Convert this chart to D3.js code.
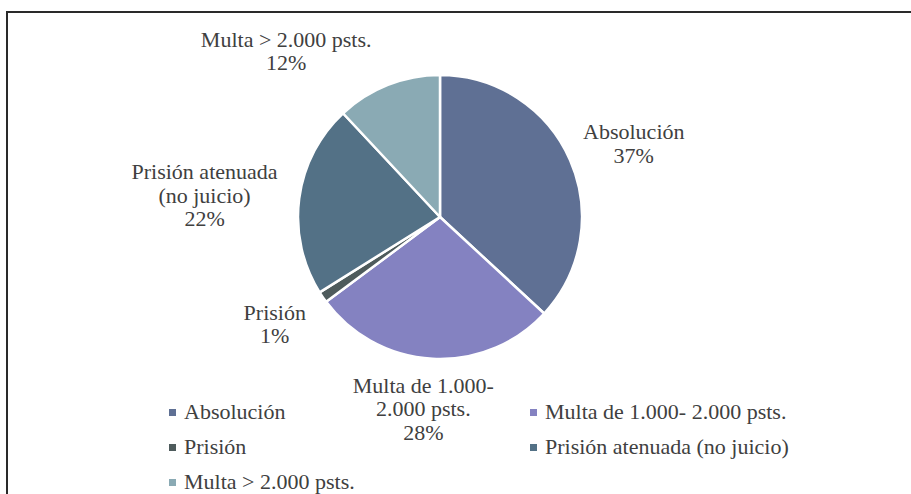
<!DOCTYPE html>
<html>
<head>
<meta charset="utf-8">
<script src="https://cdn.jsdelivr.net/npm/d3@7"></script>
</head>
<body style="margin:0">
<script>
// data, in slice order (clockwise from 12 o'clock)
var categories = [ "Absolución", "Multa de 1.000- 2.000 psts.", "Prisión", "Prisión atenuada (no juicio)", "Multa > 2.000 psts." ],
    values = [ 37, 28, 1.3, 22, 12 ],
    sliceLabels = [
      [ "Absolución" ],
      [ "Multa de 1.000-", "2.000 psts." ],
      [ "Prisión" ],
      [ "Prisión atenuada", "(no juicio)" ],
      [ "Multa > 2.000 psts." ]
    ],
    colors = [ "#5f7094", "#8482c1", "#4e5b5c", "#537186", "#8aaab4" ];

var W = 911, H = 494,
    cx = 440, cy = 217, R = 142,
    labelR = R + 40,
    lineH = 23.5,
    fontFam = "'Liberation Serif'",
    textCol = "#404040";

// nudges from the arc centroid to where the label block sits
var labelNudge = [ [27, -5], [-7, -6], [-15, 0], [-55, -14], [-87, -1] ];

var svg = d3.select("body")
  .append("svg")
    .attr("width", W)
    .attr("height", H);

// frame
svg.append("rect")
    .attr("x", 7)
    .attr("y", 12)
    .attr("width", W)
    .attr("height", H)
    .attr("fill", "none")
    .attr("stroke", "#2a2a2a")
    .attr("stroke-width", 2);

var color = d3.scaleOrdinal()
    .domain(categories)
    .range(colors);

var pie = d3.pie()
    .sort(null)
    .value(function(d) { return d.value; });

var data = categories.map(function(c, i) {
  return { cat: c, value: values[i], lines: sliceLabels[i], idx: i };
});
var arcs = pie(data);

var arc = d3.arc().innerRadius(0).outerRadius(R),
    labelArc = d3.arc().innerRadius(labelR).outerRadius(labelR);

var g = svg.append("g")
    .attr("transform", "translate(" + cx + "," + cy + ")");

g.selectAll(".slice")
  .data(arcs)
  .enter()
  .append("path")
    .attr("class", "slice")
    .attr("d", arc)
    .attr("fill", function(d) { return color(d.data.cat); })
    .attr("stroke", "#fff")
    .attr("stroke-width", 2.5)
    .attr("stroke-linejoin", "round");

// data labels
var lab = g.selectAll(".lab")
  .data(arcs)
  .enter()
  .append("text")
    .attr("class", "lab")
    .attr("text-anchor", "middle")
    .attr("font-family", fontFam)
    .attr("font-size", 22)
    .attr("fill", textCol)
    .attr("transform", function(d) {
      var c = labelArc.centroid(d),
          n = labelNudge[d.data.idx];
      return "translate(" + (c[0] + n[0]) + "," + (c[1] + n[1]) + ")";
    });

lab.each(function(d) {
  var t = d3.select(this),
      lines = d.data.lines.concat([ Math.round(d.data.value) + "%" ]);
  lines.forEach(function(l, i) {
    t.append("tspan")
        .attr("x", 0)
        .attr("y", i * lineH)
        .text(l);
  });
});

// legend, two columns
var legX = d3.scaleOrdinal().domain([0, 1]).range([169, 530]),
    legY = d3.scaleLinear().domain([0, 1]).range([419, 454]);

var leg = svg.selectAll(".legend")
  .data(categories)
  .enter()
  .append("g")
    .attr("class", "legend")
    .attr("transform", function(d, i) {
      return "translate(" + legX(i % 2) + "," + legY(Math.floor(i / 2)) + ")";
    });

leg.append("rect")
    .attr("x", 0)
    .attr("y", -10)
    .attr("width", 7)
    .attr("height", 7)
    .attr("fill", function(d) { return color(d); });

leg.append("text")
    .attr("x", 15)
    .attr("y", 0)
    .attr("font-family", fontFam)
    .attr("font-size", 22)
    .attr("fill", textCol)
    .text(function(d) { return d; });
</script>
</body>
</html>
